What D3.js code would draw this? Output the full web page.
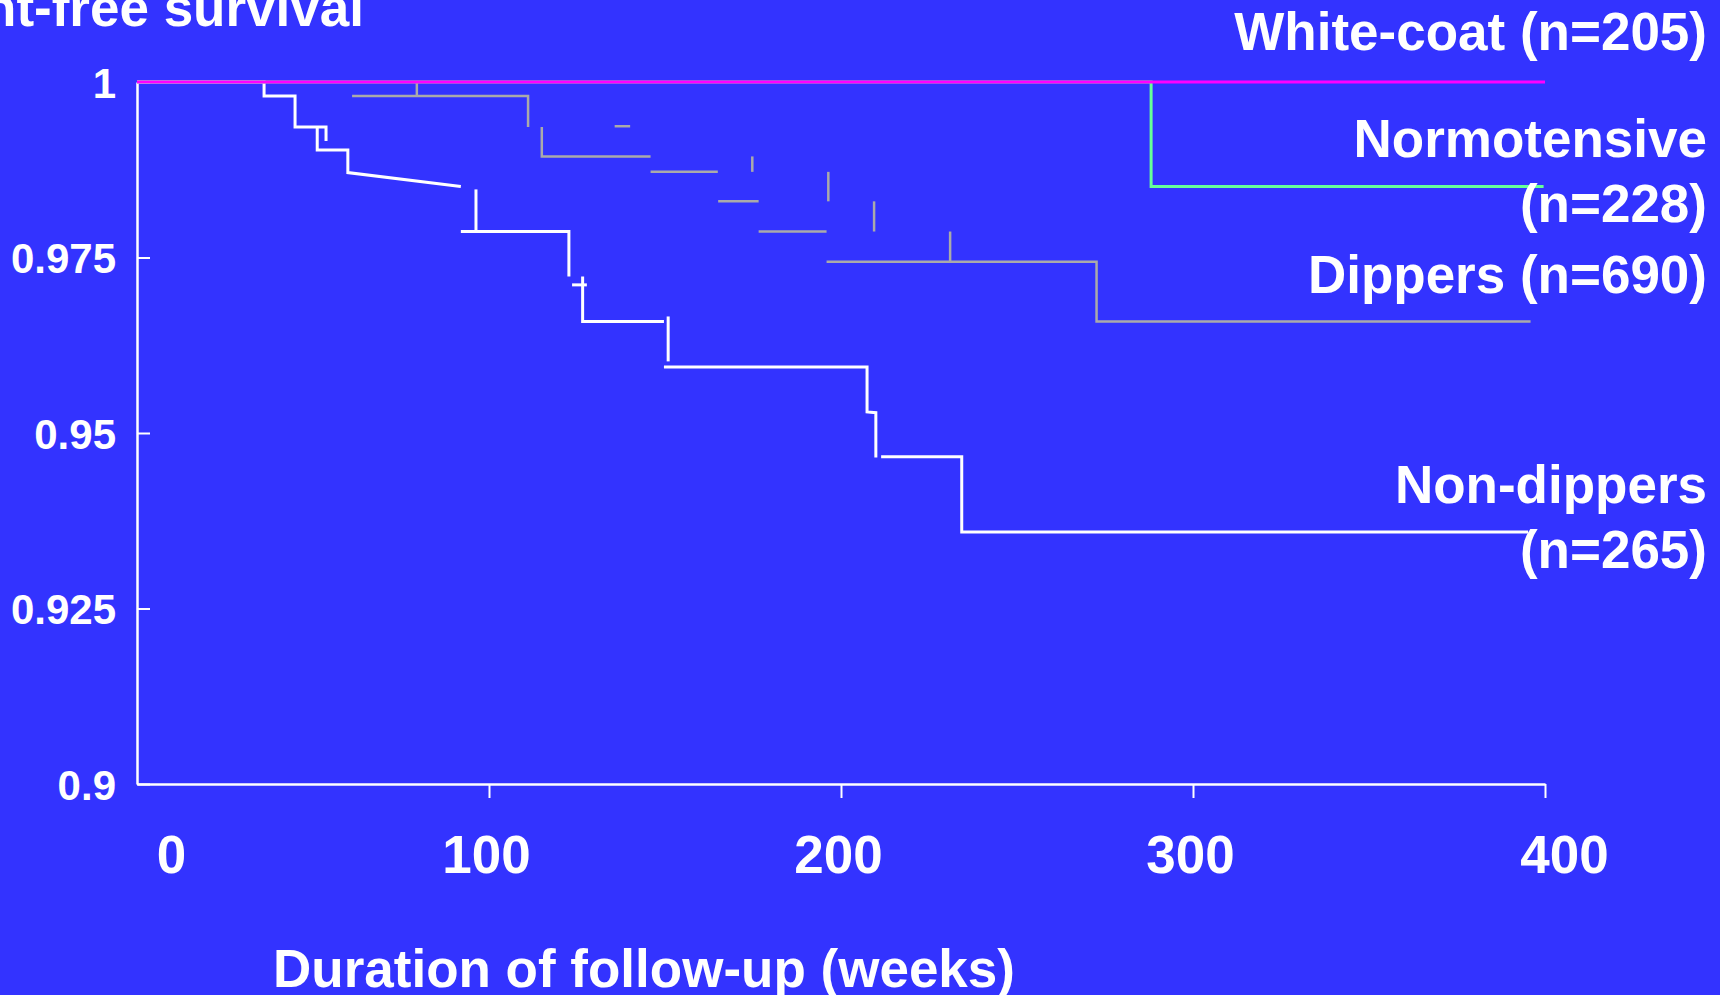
<!DOCTYPE html>
<html>
<head>
<meta charset="utf-8">
<script src="https://cdn.jsdelivr.net/npm/d3@7"></script>
<style>
  body { margin: 0; background: #3333ff; }
  svg { display: block; }
  text { font-family: "Liberation Sans", Arial, sans-serif; font-weight: bold; fill: #fff; }
</style>
</head>
<body>
<div id="chart"></div>
<script>
var W = 1720, H = 995;

// tick values
var weekTicks = [0, 100, 200, 300, 400];
var survTicks = [0.9, 0.925, 0.95, 0.975, 1];

// curves: each is a list of segments, each segment a list of [weeks, survival]
var whiteCoat = [
  [[0, 1], [400, 1]]
];
var normotensive = [
  [[0, 1], [288.1, 1], [288.1, 0.9851], [399.6, 0.9851]]
];
var dippers = [
  [[61.1, 0.9980], [111.1, 0.9980], [111.1, 0.9936]],
  [[79.5, 1], [79.5, 0.9980]],
  [[115.0, 0.9936], [115.0, 0.9894], [145.9, 0.9894]],
  [[135.7, 0.9937], [140.1, 0.9937]],
  [[145.9, 0.9872], [165.0, 0.9872]],
  [[174.8, 0.9894], [174.8, 0.9872]],
  [[165.1, 0.9830], [176.6, 0.9830]],
  [[196.4, 0.9872], [196.4, 0.9830]],
  [[176.6, 0.9787], [195.9, 0.9787]],
  [[209.4, 0.9830], [209.4, 0.9787]],
  [[195.9, 0.9744], [272.6, 0.9744], [272.6, 0.9659], [395.9, 0.9659]],
  [[231.0, 0.9787], [231.0, 0.9744]]
];
var nonDippers = [
  [[0, 1], [36.1, 1], [36.1, 0.9980], [44.9, 0.9980], [44.9, 0.9936], [53.7, 0.9936], [53.7, 0.9916]],
  [[51.2, 0.9936], [51.2, 0.9903], [59.9, 0.9903], [59.9, 0.9871], [92.0, 0.9851]],
  [[96.3, 0.9847], [96.3, 0.9785]],
  [[92.0, 0.9787], [122.7, 0.9787], [122.7, 0.9723]],
  [[123.6, 0.9711], [127.8, 0.9711]],
  [[126.6, 0.9723], [126.6, 0.9659], [149.7, 0.9659]],
  [[150.9, 0.9666], [150.9, 0.9602]],
  [[149.7, 0.9594], [207.4, 0.9594], [207.4, 0.9530], [209.9, 0.9529], [209.9, 0.9465]],
  [[211.4, 0.9466], [234.3, 0.9466], [234.3, 0.9359], [395.2, 0.9359]]
];

var svg = d3.select("#chart").append("svg")
  .attr("width", W)
  .attr("height", H);

svg.append("rect").attr("width", W).attr("height", H).attr("fill", "#3333ff");

var x = d3.scaleLinear().domain([0, 400]).range([137, 1545]);
var y = d3.scaleLinear().domain([0.9, 1]).range([784, 82]);

//Axes
var xAxis = svg.append("g")
  .attr("transform", "translate(0,784)")
  .call(d3.axisBottom(x).tickValues(weekTicks).tickSize(14).tickSizeOuter(0).tickFormat(d3.format("d")));
xAxis.select(".domain").attr("stroke", "#fff").attr("stroke-width", 2.5);
xAxis.selectAll(".tick line").attr("stroke", "#fff").attr("stroke-width", 2)
  .filter(function(d) { return d === 0; }).remove();
xAxis.selectAll(".tick text")
  .attr("y", 89).attr("dy", 0)
  .attr("dx", function(d) { return d === 0 ? 34 : d === 400 ? 19 : -3; })
  .attr("font-size", "53px")
  .attr("fill", "#fff");

var yAxis = svg.append("g")
  .attr("transform", "translate(137,0)")
  .call(d3.axisLeft(y).tickValues(survTicks).tickSize(-13).tickSizeOuter(0).tickPadding(21)
    .tickFormat(function(d) { return String(d); }));
yAxis.select(".domain").attr("stroke", "#fff").attr("stroke-width", 2.5);
yAxis.selectAll(".tick line").attr("stroke", "#fff").attr("stroke-width", 2);
yAxis.selectAll(".tick text")
  .attr("dy", "0.36em")
  .attr("font-size", "42px")
  .attr("fill", "#fff");

//Curves
var line = d3.line()
  .x(function(d) { return x(d[0]); })
  .y(function(d) { return y(d[1]); });

var curves = [
  { segs: dippers, color: "#aaaaaa", width: 2.5 },
  { segs: nonDippers, color: "#ffffff", width: 3 },
  { segs: normotensive, color: "#66ff99", width: 3 },
  { segs: whiteCoat, color: "#ff00ff", width: 3 }
];

curves.forEach(function(c) {
  svg.append("g")
    .selectAll("path")
    .data(c.segs)
    .enter()
    .append("path")
    .attr("d", line)
    .attr("fill", "none")
    .attr("stroke", c.color)
    .attr("stroke-width", c.width);
});

//Labels
var labels = svg.append("g").attr("font-size", "53px").attr("text-anchor", "end");
labels.append("text").attr("x", 1707).attr("y", 50).text("White-coat (n=205)");
labels.append("text").attr("x", 1707).attr("y", 157).text("Normotensive");
labels.append("text").attr("x", 1707).attr("y", 222).text("(n=228)");
labels.append("text").attr("x", 1707).attr("y", 293).text("Dippers (n=690)");
labels.append("text").attr("x", 1707).attr("y", 503).text("Non-dippers");
labels.append("text").attr("x", 1707).attr("y", 568).text("(n=265)");

//Axis titles
svg.append("text")
  .attr("x", 364).attr("y", 26)
  .attr("text-anchor", "end")
  .attr("font-size", "53px")
  .text("Event-free survival");

svg.append("text")
  .attr("x", 273).attr("y", 987)
  .attr("font-size", "53px")
  .text("Duration of follow-up (weeks)");
</script>
</body>
</html>
